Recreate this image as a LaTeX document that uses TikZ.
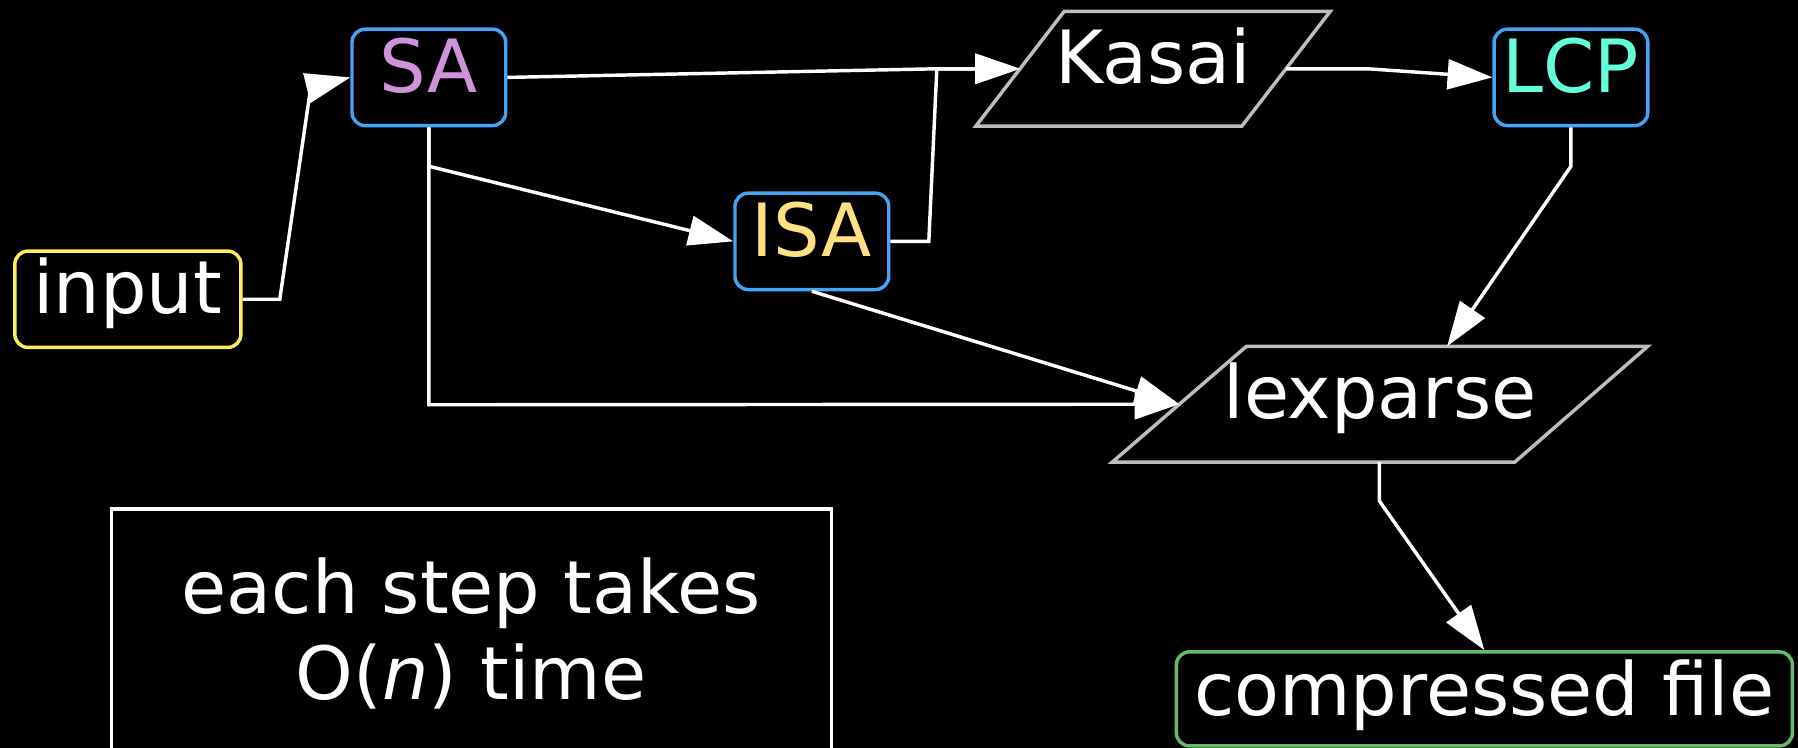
\documentclass[tikz,border=0pt]{standalone}
\usepackage{fontspec}
\setmainfont{DejaVu Sans}
\usetikzlibrary{arrows.meta,calc}

\definecolor{inputyellow}{HTML}{FFEE58}
\definecolor{boxblue}{HTML}{42A5F5}
\definecolor{outgreen}{HTML}{66BB6A}
\definecolor{shapegrey}{HTML}{BDBDBD}
\definecolor{sapurple}{HTML}{CE93D8}
\definecolor{isaamber}{HTML}{FFE082}
\definecolor{lcpteal}{HTML}{64FFDA}

\begin{document}
\begin{tikzpicture}[x=0.01cm, y=-0.01cm,
  every node/.style={font=\fontsize{18.2}{21.3}\selectfont, text=white,
                     inner sep=0pt, text height=0.73em, text depth=0pt},
  rbox/.style={draw, rounded corners=0.115cm, line width=0.03cm, fill=black,
               minimum height=0.84cm},
  link/.style={draw=white, line width=0.03cm, line join=miter,
               -{Triangle[length=0.39cm, width=0.26cm]}},
  para/.style={draw=shapegrey, line width=0.03cm, fill=black, line join=miter},
  frame/.style={draw=white, line width=0.03cm}
]
% canvas
\fill[black] (0,0) rectangle (1568,652);
\useasboundingbox (0,0) rectangle (1568,652);

% rounded boxes
\node[rbox, draw=inputyellow, minimum width=1.97cm] (input) at (111.5,261) {input};
\node[rbox, draw=boxblue, text=sapurple, minimum width=1.34cm] (SA) at (374,67.5) {SA};
\node[rbox, draw=boxblue, text=isaamber, minimum width=1.34cm] (ISA) at (708,210.5) {ISA};
\node[rbox, draw=boxblue, text=lcpteal, minimum width=1.34cm] (LCP) at (1370,67.5) {LCP};
\node[rbox, draw=outgreen, minimum width=5.37cm, minimum height=0.82cm,
      text height=0.83em] (out) at (1294.5,609.5) {compressed file};

% Kasai parallelogram
\coordinate (k1) at (928,10);
\coordinate (k2) at (1160,10);
\coordinate (k3) at (1083,110);
\coordinate (k4) at (851,110);
\draw[para] (k1) -- (k2) -- (k3) -- (k4) -- cycle;
\node (Kasai) at (1005.5,60) {Kasai};
\coordinate (kL) at ($(k1)!0.5!(k4)$);
\coordinate (kR) at ($(k2)!0.5!(k3)$);

% lexparse parallelogram
\coordinate (l1) at (1087,302);
\coordinate (l2) at (1437,302);
\coordinate (l3) at (1321,403);
\coordinate (l4) at (970,403);
\draw[para] (l1) -- (l2) -- (l3) -- (l4) -- cycle;
\node (lexparse) at (1203.5,352.5) {lexparse};
\coordinate (lL) at ($(l1)!0.5!(l4)$);
\coordinate (lT) at ($(l1)!0.5!(l2)$);
\coordinate (lB) at (1203,403);

% note box, open at the bottom edge
\draw[frame] (97,660) -- (97,444) -- (725,444) -- (725,660);
\node[anchor=base] (note1) at (411,535) {each step takes};
\node[anchor=base] (note2) at (411,610) {O(\textit{n}) time};

% connectors
\draw[link] (input.east) -- (244,261) -- (271,76) -- (SA.west);
\draw[link] (SA.east) -- (817,60) -- (kL);
\draw[link] (ISA.east) -- (810,210.5) -- (817,60) -- (kL);
\draw[link] (SA.south) -- (374,145) -- (ISA.west);
\draw[link] (SA.south) -- (374,353) -- (lL);
\draw[link] (ISA.south) -- (lL);
\draw[link] (kR) -- (1193,60) -- (LCP.west);
\draw[link] (LCP.south) -- (1370,145) -- (lT);
\draw[link] (lB) -- (1203,437) -- (out.north);
\end{tikzpicture}
\end{document}
